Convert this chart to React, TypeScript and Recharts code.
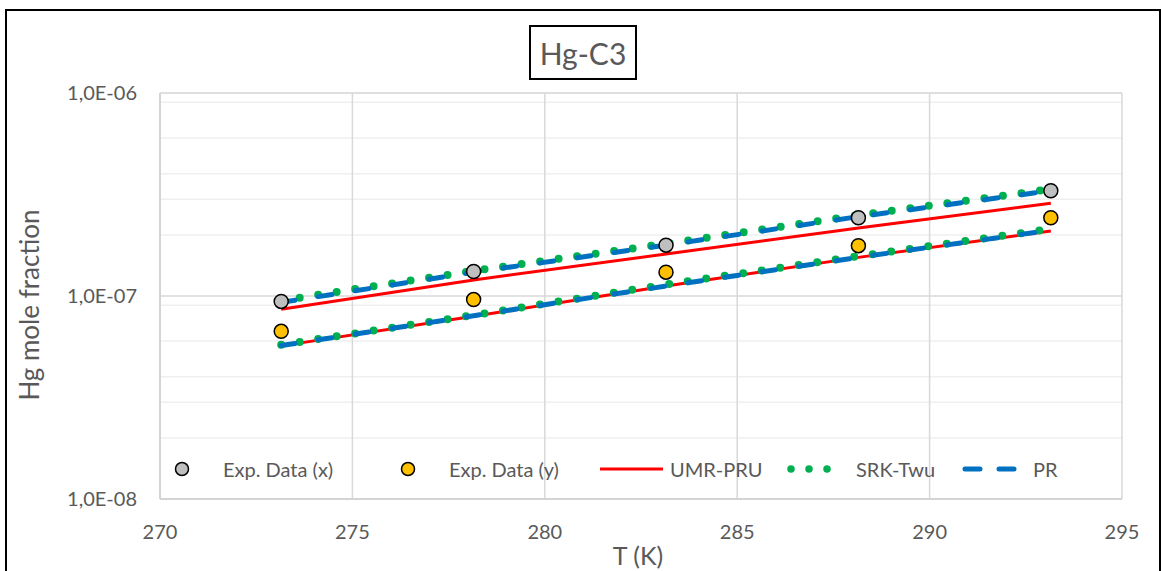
import React from 'react'
import { ComposedChart, Line, Scatter, XAxis, YAxis, CartesianGrid } from 'recharts'

// temperatures (K) of the experimental points
const temps = [273.15, 278.15, 283.15, 288.15, 293.15]

// experimental Hg mole fractions
const expX = [9.4e-8, 1.32e-7, 1.78e-7, 2.43e-7, 3.3e-7]
const expY = [6.7e-8, 9.6e-8, 1.31e-7, 1.77e-7, 2.43e-7]

// model predictions, upper (x) and lower (y) branches
const umrX = [8.6e-8, 1.2e-7, 1.61e-7, 2.16e-7, 2.86e-7]
const umrY = [5.68e-8, 7.95e-8, 1.12e-7, 1.55e-7, 2.09e-7]
const srkX = [9.5e-8, 1.33e-7, 1.81e-7, 2.5e-7, 3.36e-7]
const srkY = [5.75e-8, 8.05e-8, 1.14e-7, 1.57e-7, 2.14e-7]
const prX = [9.3e-8, 1.31e-7, 1.78e-7, 2.46e-7, 3.3e-7]
const prY = [5.7e-8, 8.0e-8, 1.12e-7, 1.55e-7, 2.11e-7]

const xTicks = [270, 275, 280, 285, 290, 295]
const yTicks = [1e-8, 1e-7, 1e-6]
const yMinorTicks = [
  2e-8, 3e-8, 4e-8, 5e-8, 6e-8, 7e-8, 8e-8, 9e-8,
  2e-7, 3e-7, 4e-7, 5e-7, 6e-7, 7e-7, 8e-7, 9e-7,
]

const FONT = 'Lato, "Noto Sans", sans-serif'
const TEXT = '#595959'

const toPoints = (vals: number[]) => temps.map((T, i) => ({ T, v: vals[i] }))

const fmtSci = (v: number) => {
  const [m, e] = v.toExponential(1).split('e')
  const n = parseInt(e, 10)
  return `${m.replace('.', ',')}E${n < 0 ? '-' : '+'}${String(Math.abs(n)).padStart(2, '0')}`
}

const marker = (fill: string) => (props: any) => (
  <circle cx={props.cx} cy={props.cy} r={7} fill={fill} stroke="#000" strokeWidth={1.5} />
)

const LegendRow = () => {
  const items = [
    { label: 'Exp. Data (x)', iconX: 182, textX: 223, kind: 'dot', color: '#BFBFBF' },
    { label: 'Exp. Data (y)', iconX: 408, textX: 449, kind: 'dot', color: '#FFC000' },
    { label: 'UMR-PRU', iconX: 600, textX: 670, kind: 'solid', color: '#FF0000' },
    { label: 'SRK-Twu', iconX: 786, textX: 856, kind: 'dotted', color: '#00B050' },
    { label: 'PR', iconX: 960, textX: 1033, kind: 'dashed', color: '#0070C0' },
  ]
  return (
    <>
      {items.map((it) => (
        <React.Fragment key={it.label}>
          <svg
            style={{ position: 'absolute', left: it.kind === 'dot' ? it.iconX - 8 : it.iconX, top: 461 }}
            width={it.kind === 'dot' ? 16 : 64}
            height={16}
          >
            {it.kind === 'dot' && <circle cx={8} cy={8} r={6.5} fill={it.color} stroke="#000" strokeWidth={1.5} />}
            {it.kind === 'solid' && <line x1={0} y1={8} x2={63} y2={8} stroke={it.color} strokeWidth={3} />}
            {it.kind === 'dotted' && (
              <line x1={5} y1={8} x2={58} y2={8} stroke={it.color} strokeWidth={7.5}
                strokeLinecap="round" strokeDasharray="0 18" />
            )}
            {it.kind === 'dashed' && (
              <line x1={5} y1={8} x2={54} y2={8} stroke={it.color} strokeWidth={5}
                strokeLinecap="round" strokeDasharray="15 19" />
            )}
          </svg>
          <div
            style={{
              position: 'absolute', left: it.textX, top: 456, fontSize: 20,
              color: TEXT, whiteSpace: 'nowrap', lineHeight: '26px',
            }}
          >
            {it.label}
          </div>
        </React.Fragment>
      ))}
    </>
  )
}

export default function App() {
  return (
    <div style={{ position: 'absolute', left: 0, top: 0, width: 1161, height: 571, overflow: 'hidden', background: '#fff', fontFamily: FONT }}>
      <div style={{ position: 'absolute', left: 5, top: 9, width: 1156, height: 600, border: '2px solid #000', boxSizing: 'border-box' }} />

      <div
        style={{
          position: 'absolute', left: 529, top: 25, width: 108, height: 55, border: '2px solid #000',
          boxSizing: 'border-box', display: 'flex', alignItems: 'center', justifyContent: 'center',
          fontSize: 30, color: TEXT,
        }}
      >
        Hg-C3
      </div>

      <ComposedChart
        width={1161}
        height={571}
        margin={{ top: 93, right: 39, bottom: 0, left: 0 }}
        style={{ position: 'absolute', left: 0, top: 0 }}
      >
        <CartesianGrid yAxisId="minor" vertical={false} stroke="#efefef" strokeWidth={1.5} />
        <CartesianGrid stroke="#d9d9d9" strokeWidth={1.5} />
        <XAxis
          dataKey="T"
          type="number"
          domain={[270, 295]}
          ticks={xTicks}
          allowDataOverflow
          height={72}
          tickLine={false}
          tickMargin={20}
          axisLine={{ stroke: '#d0d0d0', strokeWidth: 1.5 }}
          tick={{ fill: TEXT, fontSize: 20, fontFamily: FONT }}
        />
        <YAxis
          dataKey="v"
          type="number"
          scale="log"
          domain={[1e-8, 1e-6]}
          ticks={yTicks}
          allowDataOverflow
          width={160}
          tickLine={false}
          tickMargin={17}
          tickFormatter={fmtSci}
          axisLine={{ stroke: '#d0d0d0', strokeWidth: 1.5 }}
          tick={{ fill: TEXT, fontSize: 20, fontFamily: FONT }}
        />
        <YAxis
          yAxisId="minor"
          type="number"
          scale="log"
          domain={[1e-8, 1e-6]}
          ticks={yMinorTicks}
          allowDataOverflow
          hide
        />

        <Line data={toPoints(umrX)} dataKey="v" stroke="#FF0000" strokeWidth={3} dot={false} isAnimationActive={false} />
        <Line data={toPoints(umrY)} dataKey="v" stroke="#FF0000" strokeWidth={3} dot={false} isAnimationActive={false} />
        <Line data={toPoints(srkX)} dataKey="v" stroke="#00B050" strokeWidth={8} strokeLinecap="round"
          strokeDasharray="0 18.7" dot={false} isAnimationActive={false} />
        <Line data={toPoints(srkY)} dataKey="v" stroke="#00B050" strokeWidth={8} strokeLinecap="round"
          strokeDasharray="0 18.7" dot={false} isAnimationActive={false} />
        <Line data={toPoints(prX)} dataKey="v" stroke="#0070C0" strokeWidth={5} strokeLinecap="round"
          strokeDasharray="14 23.4" dot={false} isAnimationActive={false} />
        <Line data={toPoints(prY)} dataKey="v" stroke="#0070C0" strokeWidth={5} strokeLinecap="round"
          strokeDasharray="14 23.4" dot={false} isAnimationActive={false} />

        <Scatter data={toPoints(expX)} dataKey="v" shape={marker('#BFBFBF')} isAnimationActive={false} />
        <Scatter data={toPoints(expY)} dataKey="v" shape={marker('#FFC000')} isAnimationActive={false} />
      </ComposedChart>

      <LegendRow />

      <div
        style={{
          position: 'absolute', left: 29, top: 305, transform: 'translate(-50%, -50%) rotate(-90deg)',
          fontSize: 26, color: TEXT, whiteSpace: 'nowrap',
        }}
      >
        Hg mole fraction
      </div>
      <div
        style={{
          position: 'absolute', left: 638, top: 555, transform: 'translate(-50%, -50%)',
          fontSize: 25, color: TEXT, whiteSpace: 'nowrap',
        }}
      >
        T (K)
      </div>
    </div>
  )
}
